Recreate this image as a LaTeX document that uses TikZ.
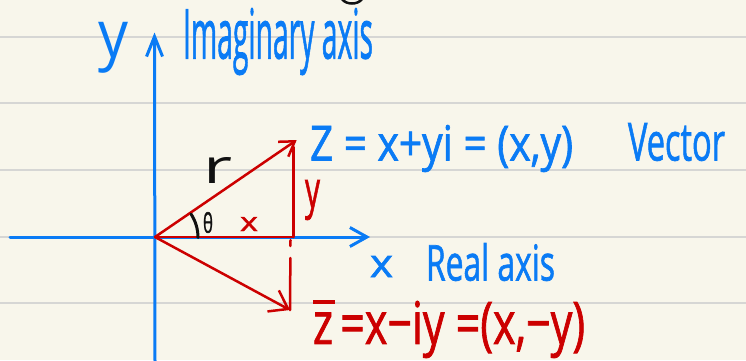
\documentclass[tikz,border=0pt]{standalone}
\usepackage{fontspec}
\setmainfont{Open Sans}
\newfontfamily\handfont{Open Sans}[FakeBold=1.5]
\usepackage{graphicx}
\usetikzlibrary{arrows.meta}
\definecolor{paper}{HTML}{F8F6EB}
\definecolor{rulegray}{HTML}{D6D6D4}
\definecolor{blueink}{HTML}{0A7BF5}
\definecolor{redink}{HTML}{CC0000}
\definecolor{blackink}{HTML}{111111}
\newcommand{\zbarmark}{\makebox[0pt][l]{\raisebox{0.68em}{\rule{0.5em}{0.07em}}}z}
\begin{document}
\begin{tikzpicture}[x=1pt,y=-1pt,
  ruleline/.style={draw=rulegray,line width=1.8pt},
  blueax/.style={draw=blueink,line width=3pt,line cap=round,line join=round},
  redvec/.style={draw=redink,line width=2.5pt,line cap=round,line join=round},
  blackink/.style={draw=blackink,line width=3pt,line cap=round},
  hw/.style={inner sep=0pt,outer sep=0pt,anchor=north west,font=\handfont},
  hwthin/.style={hw,font=\normalfont}]
\fill[paper] (0,0) rectangle (746,360);
\useasboundingbox (0,0) rectangle (746,360);
% ruled paper
\foreach \ry in {36.7,103.3,170,236.7,303.3}
  \draw[ruleline] (0,\ry) -- (746,\ry);
% fragment of a letter from the line above
\draw[blackink,line width=2.5pt] (342,-1) .. controls (346,5) and (358,5) .. (362,-1);
% points
\coordinate (O) at (155,237);
\coordinate (ytop) at (154.5,32.5);
\coordinate (ybot) at (155,362);
\coordinate (xleft) at (10,237);
\coordinate (xright) at (370,237);
\coordinate (Z) at (296.7,140);
\coordinate (Zv) at (293.5,147);
\coordinate (P) at (293.5,237);
\coordinate (Zc) at (290,310);
\coordinate (Pc) at (290.5,240);
% axes
\draw[blueax,-{Straight Barb[length=20pt,width=16pt]}] (ybot) -- (ytop);
\draw[blueax,-{Straight Barb[length=17pt,width=19pt]}] (xleft) -- (xright);
% vectors
\draw[redvec] (O) -- (P);
\draw[redvec] (Zv) -- (P);
\draw[redvec,dash pattern=on 6pt off 12pt on 80pt] (Pc) -- (Zc);
\draw[redvec,-{Straight Barb[length=14pt,width=18pt]}] (O) -- (Z);
\draw[redvec,-{Straight Barb[length=17pt,width=24pt]}] (O) -- (Zc);
% angle
\draw[blackink] (198,237.5) arc[start angle=0,end angle=33,radius=43pt];
% texts
\node[hwthin,text=blueink] (ylab) at (98,22) {\resizebox*{30pt}{51pt}{y}};
\node[hw,text=blueink] (imag) at (183,8) {\resizebox*{190pt}{67pt}{Imaginary axis}};
\node[hw,text=blueink] (zeq) at (310,125) {\resizebox*{263pt}{47pt}{Z = x+yi = (x,y)}};
\node[hw,text=blueink] (vec) at (628,123) {\resizebox*{97pt}{38pt}{Vector}};
\node[hwthin,text=blackink] (rlab) at (203,157) {\resizebox*{29pt}{26pt}{r}};
\node[hw,text=blackink] (theta) at (203,212) {\resizebox*{10pt}{21pt}{θ}};
\node[hw,text=redink] (redx) at (240,217) {\resizebox*{18pt}{14pt}{x}};
\node[hw,text=redink] (redy) at (305,180) {\resizebox*{15pt}{40pt}{y}};
\node[hw,text=blueink] (xlab) at (370,256) {\resizebox*{23pt}{21pt}{x}};
\node[hw,text=blueink] (real) at (426,243) {\resizebox*{129pt}{38pt}{Real axis}};
\node[hw,text=redink] (conj) at (313,300) {\resizebox*{272pt}{58pt}{\zbarmark\,=x−iy =(x,−y)}};
\end{tikzpicture}
\end{document}
